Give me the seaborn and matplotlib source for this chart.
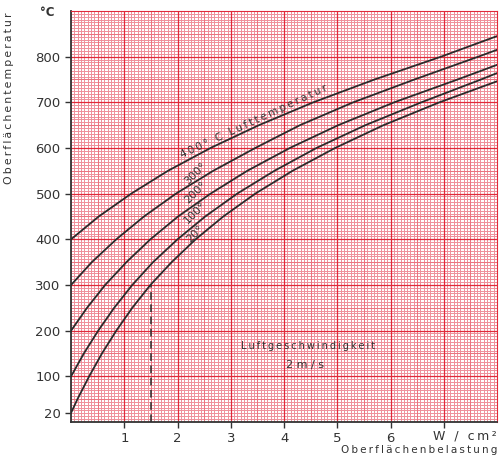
import numpy as np
import pandas as pd
import seaborn as sns
import matplotlib.pyplot as plt

# Oberflächenbelastung (W/cm²) at which each curve crosses the read temperatures (°C)
load_20 = [0, 0.12, 0.34, 0.58, 0.85, 1.15, 1.49, 1.89, 2.34, 2.86, 3.46, 4.16, 4.96, 5.87, 6.92, 8.0]
temp_20 = [20, 50, 100, 150, 200, 250, 300, 350, 400, 450, 500, 550, 600, 650, 700, 746]
load_100 = [0, 0.24, 0.51, 0.81, 1.15, 1.54, 2.0, 2.52, 3.12, 3.82, 4.61, 5.53, 6.58, 7.7, 8.0]
temp_100 = [100, 150, 200, 250, 300, 350, 400, 450, 500, 550, 600, 650, 700, 750, 764]
load_200 = [0, 0.3, 0.64, 1.04, 1.49, 2.01, 2.62, 3.31, 4.11, 5.02, 6.07, 7.26, 8.0]
temp_200 = [200, 250, 300, 350, 400, 450, 500, 550, 600, 650, 700, 750, 782]
load_300 = [0, 0.39, 0.85, 1.37, 1.97, 2.67, 3.46, 4.3, 5.3, 6.45, 7.65, 8.0]
temp_300 = [300, 350, 400, 450, 500, 550, 600, 650, 700, 750, 800, 815]
load_400 = [0, 0.52, 1.13, 1.82, 2.62, 3.53, 4.55, 5.7, 6.95, 8.0]
temp_400 = [400, 450, 500, 550, 600, 650, 700, 750, 800, 845]

curve_names = ["20°", "100°", "200°", "300°", "400°"]
y_ticks = [20, 100, 200, 300, 400, 500, 600, 700, 800]
x_ticks = [1, 2, 3, 4, 5, 6, 7]
x_tick_labels = ["1", "2", "3", "4", "5", "6", ""]
marked_load = 1.5

frames = []
for name, xs, ys in zip(curve_names,
                        [load_20, load_100, load_200, load_300, load_400],
                        [temp_20, temp_100, temp_200, temp_300, temp_400]):
    frames.append(pd.DataFrame({"load": xs, "temp": ys, "curve": name}))
df = pd.concat(frames, ignore_index=True)


def spaced(s):
    return "\u2009".join(s)


sns.set_style("white")
plt.rcParams["font.family"] = ["DejaVu Sans"]

fig = plt.figure(figsize=(5.01, 4.59), dpi=100)
ax = fig.add_axes([0.142, 0.081, 0.850, 0.895])
ax.set_xlim(0, 8)
ax.set_ylim(0, 900)

# graph paper
fine_x = np.arange(0, 8.001, 1 / 16)
fine_y = np.arange(0, 900.1, 100 / 16)
ax.vlines(fine_x, 0, 900, color="#ef8f9a", lw=0.7, zorder=0)
ax.hlines(fine_y, 0, 8, color="#ef8f9a", lw=0.7, zorder=0)
ax.vlines(np.arange(0.5, 8, 1), 0, 900, color="#eb7480", lw=0.75, zorder=0)
ax.hlines(np.arange(50, 900, 100), 0, 8, color="#eb7480", lw=0.75, zorder=0)
ax.vlines(np.arange(1, 8, 1), 0, 900, color="#e02a3a", lw=0.9, zorder=0)
ax.hlines(np.arange(100, 900, 100), 0, 8, color="#e02a3a", lw=0.9, zorder=0)

sns.lineplot(data=df, x="load", y="temp", hue="curve", units="curve", estimator=None,
             sort=False, palette=["#2b2b2b"] * 5, lw=1.3, legend=False, ax=ax, zorder=3)

ax.vlines(marked_load, 0, np.interp(marked_load, load_20, temp_20),
          color="#2b2b2b", lw=1.1, ls=(0, (5, 3)), zorder=3)

for side in ["top", "right"]:
    ax.spines[side].set_color("#e02a3a")
for side in ["left", "bottom"]:
    ax.spines[side].set_color("#333333")
    ax.spines[side].set_linewidth(1.3)

ax.set_xticks(x_ticks)
ax.set_xticklabels(x_tick_labels)
ax.set_yticks(y_ticks)
ax.tick_params(direction="out", length=4, width=1, color="#333333",
               labelsize=9.5, labelcolor="#333333", left=True, bottom=True)
ax.set_xlabel("")
ax.set_ylabel("")

tc = "#333333"
ax.text(-0.45, 910, "°C", ha="center", va="top", fontsize=8.5, color=tc,
        fontweight="bold", clip_on=False)
fig.text(0.018, 0.972, spaced("Oberflächentemperatur"), rotation=90,
         ha="center", va="top", fontsize=7.8, color=tc)
ax.text(8.0, -30, spaced("W / cm²"), ha="right", va="center", fontsize=9, color=tc,
        clip_on=False)
ax.text(8.0, -62, spaced("Oberflächenbelastung"), ha="right", va="center",
        fontsize=7.5, color=tc, clip_on=False)

ax.text(2.1, 574, spaced("400° C Lufttemperatur"), rotation=25, ha="left",
        va="bottom", rotation_mode="anchor", fontsize=7.5, color=tc, zorder=4)
for name, ty in zip(["300°", "200°", "100°", "20°"], [545, 502, 458, 412]):
    ax.text(2.33, ty, name, rotation=45, ha="center", va="center",
            rotation_mode="anchor", fontsize=8, color=tc, zorder=4)

ax.text(4.45, 166, spaced("Luftgeschwindigkeit"), ha="center", va="center",
        fontsize=7, color=tc, zorder=4)
ax.text(4.4, 125, "2 m / s", ha="center", va="center",
        fontsize=8, color=tc, zorder=4)

fig.savefig("out.png", dpi=100)
